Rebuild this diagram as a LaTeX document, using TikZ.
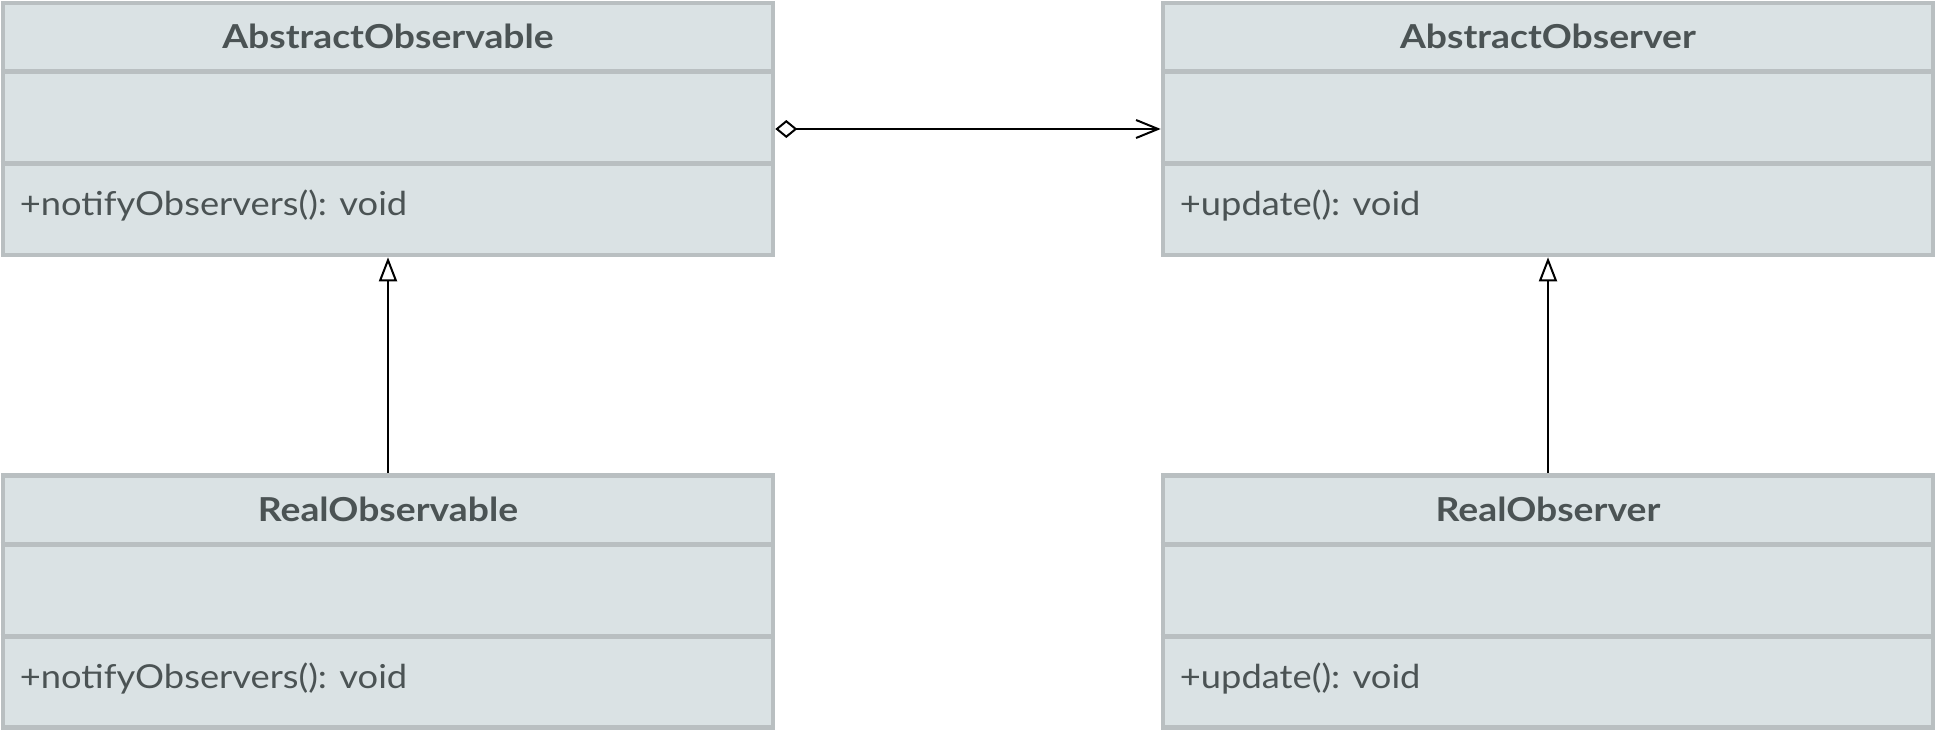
\documentclass[tikz,border=0pt]{standalone}
\usepackage{fontspec}
\setmainfont{Lato}
\newfontfamily\titlefont[FakeStretch=1.13]{Lato}
\newfontfamily\memberfont[FakeStretch=1.1]{Lato}
\usetikzlibrary{arrows.meta}
\definecolor{boxfill}{HTML}{DAE2E4}
\definecolor{boxline}{HTML}{B9BFC1}
\definecolor{txt}{HTML}{4B5354}
\tikzset{
  classbox/.style={draw=boxline, fill=boxfill, line width=4.6pt, minimum width=770pt, minimum height=252pt, inner sep=0pt, outer sep=2.3pt},
  divider/.style={draw=boxline, line width=4.6pt},
  classtitle/.style={font=\titlefont\fontsize{33}{40}\selectfont\bfseries, text=txt, inner sep=0pt},
  member/.style={font=\memberfont\fontsize{33}{40}\selectfont, text=txt, anchor=base west, inner sep=0pt},
  conn/.style={line width=2pt, draw=black},
}
\newcommand\umlclassbox[5]{%
  \node[classbox, anchor=center] (#1) at (#2,#3) {};
  \draw[divider] ([yshift=-71pt]#1.north west) -- ([yshift=-71pt]#1.north east);
  \draw[divider] ([yshift=-163pt]#1.north west) -- ([yshift=-163pt]#1.north east);
  \node[classtitle] (#1-t) at ([yshift=-36pt]#1.north) {#4};
  \node[member] (#1-m) at ([xshift=19pt,yshift=-215pt]#1.north west) {#5};
}
\begin{document}
\begin{tikzpicture}[x=1pt,y=-1pt]
\useasboundingbox (0,0) rectangle (1936,731);
\umlclassbox{ao}{388}{129}{AbstractObservable}{+notifyObservers(): void}
\umlclassbox{aob}{1548}{129}{AbstractObserver}{+update(): void}
\umlclassbox{ro}{388}{601.5}{RealObservable}{+notifyObservers(): void}
\umlclassbox{rob}{1548}{601.5}{RealObserver}{+update(): void}
\draw[conn, {Diamond[open,length=22pt,width=18pt]}-{Straight Barb[length=22pt,width=18pt]}] (ao.east) -- (aob.west);
\draw[conn, -{Triangle[open,length=24pt,width=18pt]}] (ro.north) -- (ao.south);
\draw[conn, -{Triangle[open,length=24pt,width=18pt]}] (rob.north) -- (aob.south);
\end{tikzpicture}
\end{document}
